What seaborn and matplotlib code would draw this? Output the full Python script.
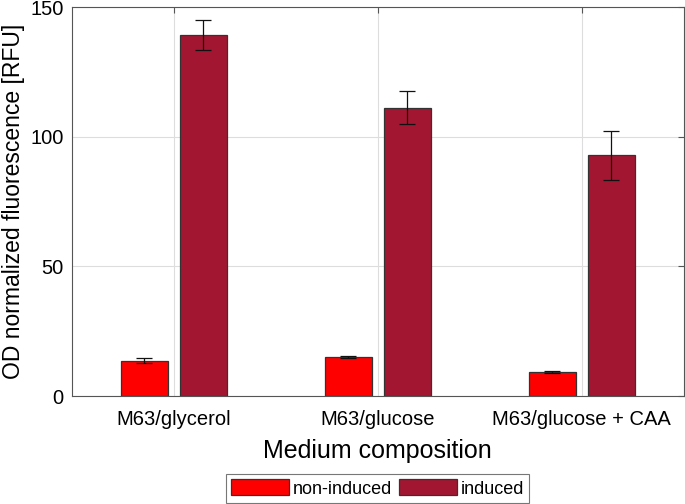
import numpy as np
import pandas as pd
import matplotlib
matplotlib.use("Agg")
import matplotlib.pyplot as plt
import seaborn as sns

media = ["M63/glycerol", "M63/glucose", "M63/glucose + CAA"]
conditions = ["non-induced", "induced"]
non_induced = [13.7, 15.1, 9.3]
non_induced_err = [1.1, 0.3, 0.3]
induced = [139.2, 111.2, 92.9]
induced_err = [5.9, 6.4, 9.5]

df = pd.DataFrame({
    "medium": media * 2,
    "condition": ["non-induced"] * 3 + ["induced"] * 3,
    "value": non_induced + induced,
})

sns.set_style("white")
plt.rcParams["font.family"] = ["Liberation Sans", "DejaVu Sans"]
plt.rcParams["text.color"] = "black"
plt.rcParams["axes.labelcolor"] = "black"
plt.rcParams["xtick.labelcolor"] = "black"
plt.rcParams["ytick.labelcolor"] = "black"

fig = plt.figure(figsize=(6.85, 5.04), dpi=100)
ax = fig.add_axes([0.105, 0.214, 0.893, 0.772])

sns.barplot(data=df, x="medium", y="value", hue="condition", hue_order=conditions,
            palette=["#ff0000", "#a31631"], saturation=1, width=0.578, gap=0.204,
            edgecolor="#333333", linewidth=0.9, errorbar=None, legend=True, ax=ax)

# error bars on top of each bar
for cont, errs in zip(ax.containers, [non_induced_err, induced_err]):
    xs = [p.get_x() + p.get_width() / 2 for p in cont.patches]
    hs = [p.get_height() for p in cont.patches]
    ax.errorbar(xs, hs, yerr=errs, fmt="none", ecolor="#111111",
                elinewidth=0.9, capsize=6, capthick=0.9, zorder=5)

ax.set_xlim(-0.5, 2.5)
ax.set_ylim(0, 150)
ax.set_yticks([0, 50, 100, 150])
ax.grid(True, color="#dddddd", linewidth=0.8)
ax.set_axisbelow(True)
for s in ax.spines.values():
    s.set_color("#555555")
    s.set_linewidth(0.8)
ax.tick_params(direction="in", top=True, right=True, length=4, width=0.8,
               color="#555555", labelsize=14.5, pad=6)
ax.tick_params(axis="x", pad=10)
ax.set_xlabel("Medium composition", fontsize=18, labelpad=7)
ax.set_ylabel("OD normalized fluorescence [RFU]", fontsize=16.5, labelpad=4)

handles, labels = ax.get_legend_handles_labels()
ax.get_legend().remove()
leg = fig.legend(handles, labels, loc="center", bbox_to_anchor=(0.551, 0.031), ncol=2,
                 fontsize=13, frameon=True, fancybox=False, handlelength=3.2,
                 handleheight=1.0, handletextpad=0.2, columnspacing=0.4,
                 borderpad=0.3, borderaxespad=0)
leg.get_frame().set_edgecolor("#555555")
leg.get_frame().set_linewidth(0.8)

fig.savefig("out.png", dpi=100)
